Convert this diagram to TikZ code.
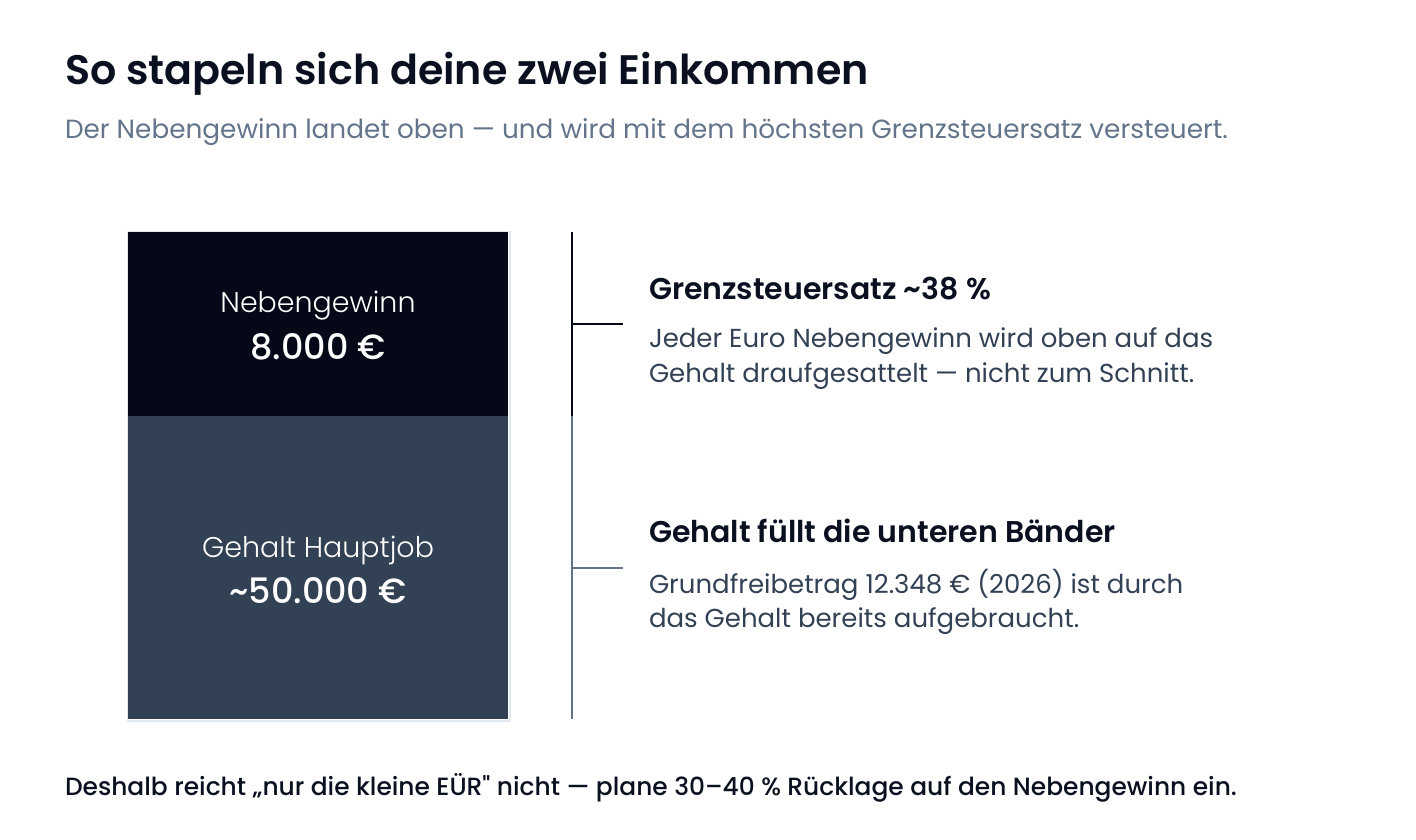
\documentclass[tikz,border=0pt]{standalone}
\usepackage{fontspec}
\setmainfont{Poppins}
\newfontfamily\semibf{Poppins SemiBold}
\newfontfamily\medf{Poppins Medium}
\newfontfamily\lightf{Poppins Light}

\definecolor{ink}{HTML}{050816}
\definecolor{slate}{HTML}{334155}
\definecolor{mist}{HTML}{E2E8F0}
\definecolor{steel}{HTML}{64748B}
\definecolor{titlec}{HTML}{0B1020}

\tikzset{
  txt/.style={anchor=base west, inner sep=0, outer sep=0},
  band/.style={minimum width=380, minimum height=#1, inner sep=0, outer sep=0, anchor=north west},
  boxlbl/.style={anchor=base, inner sep=0, text=white, font=\lightf\fontsize{28.5}{34}\selectfont},
  boxnum/.style={anchor=base, inner sep=0, text=white, font=\medf\fontsize{35}{40}\selectfont},
  head/.style={txt, text=titlec, font=\semibf\fontsize{30}{36}\selectfont},
  body/.style={txt, text=slate, font=\fontsize{26}{30}\selectfont},
}

\begin{document}
\begin{tikzpicture}[x=1pt,y=-1pt]
\useasboundingbox (0,0) rectangle (1416,840);
\fill[white] (0,0) rectangle (1416,840);

% title
\node[txt, text=titlec, font=\semibf\fontsize{41.2}{48}\selectfont] (title) at (65,85) {So stapeln sich deine zwei Einkommen};
\node[txt, text=steel, font=\fontsize{26.3}{30}\selectfont] (subtitle) at (65,139) {Der Nebengewinn landet oben — und wird mit dem höchsten Grenzsteuersatz versteuert.};

% the stack
\node[draw=mist, line width=2, minimum width=382, minimum height=489, inner sep=0, anchor=north west] (stack) at (127,231) {};
\node[band=184, fill=ink] (neben) at (128,232) {};
\node[band=303, fill=slate, anchor=north] (gehalt) at (neben.south) {};
\node[boxlbl] (nebenlbl) at (318,312) {Nebengewinn};
\node[boxnum] (nebennum) at (318,359) {8.000 €};
\node[boxlbl] (gehaltlbl) at (318,557) {Gehalt Hauptjob};
\node[boxnum] (gehaltnum) at (318,603) {\textasciitilde 50.000 €};

% scale line
\coordinate (ltop) at (572,232);
\coordinate (lmid) at (572,416);
\coordinate (lbot) at (572,719);
\coordinate (t1) at (572,324);
\coordinate (t1e) at (623,324);
\coordinate (t2) at (572,568);
\coordinate (t2e) at (623,568);
\draw[ink, line width=2.5] (ltop) -- (lmid);
\draw[steel, line width=2.5] (lmid) -- (lbot);
\draw[ink, line width=2.5] (t1) -- (t1e);
\draw[steel, line width=2.5] (t2) -- (t2e);

% notes
\node[head] (grenz) at (649,299) {Grenzsteuersatz \textasciitilde 38 \%};
\node[body] (grenz1) at (649,347) {Jeder Euro Nebengewinn wird oben auf das};
\node[body] (grenz2) at (649,382) {Gehalt draufgesattelt — nicht zum Schnitt.};
\node[head] (band) at (649,542) {Gehalt füllt die unteren Bänder};
\node[body] (band1) at (649,593) {Grundfreibetrag 12.348 € (2026) ist durch};
\node[body] (band2) at (649,627) {das Gehalt bereits aufgebraucht.};

% footer
\node[txt, text=titlec, font=\medf\fontsize{24.9}{29}\selectfont] (footer) at (65,795) {Deshalb reicht „nur die kleine EÜR" nicht — plane 30–40 \% Rücklage auf den Nebengewinn ein.};
\end{tikzpicture}
\end{document}
